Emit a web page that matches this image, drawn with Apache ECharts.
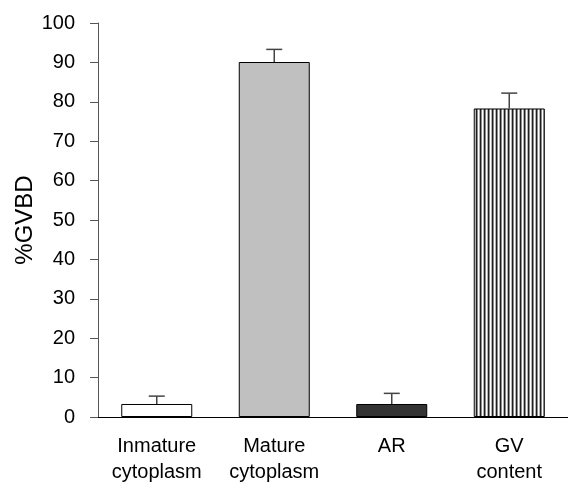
<!DOCTYPE html>
<html>
<head>
    <meta charset="utf-8">
    <title>%GVBD</title>
    <script src="https://cdn.jsdelivr.net/npm/echarts@6/dist/echarts.min.js"></script>
    <style>
        html, body { margin: 0; padding: 0; background: #fff; }
        #chart1 { width: 568px; height: 485px; }
    </style>
</head>
<body>
<div id="chart1"></div>
<script type="text/javascript">
    // 数据
    var categories = ['Inmature\ncytoplasm', 'Mature\ncytoplasm', 'AR', 'GV\ncontent'];
    var gvbd = [3.3, 90.1, 3.3, 78.3];
    var errUp = [2.0, 3.2, 2.7, 3.9];
    var yTicks = [0, 100, 10];

    // 竖条纹图案 (GV content)
    var cv = document.createElement('canvas');
    cv.width = 4; cv.height = 4;
    var cx = cv.getContext('2d');
    var stripe = ['#1e1e1e', '#8c8c8c', '#ffffff', '#b4b4b4'];
    for (var i = 0; i < 4; i++) {
        cx.fillStyle = stripe[i];
        cx.fillRect(i, 0, 1, 4);
    }
    var fills = ['#ffffff', '#c0c0c0', '#333333', { image: cv, repeat: 'repeat' }];

    var chart = echarts.init(document.getElementById('chart1'));
    chart.setOption({
        animation: false,
        grid: { left: 98, top: 23, width: 477, height: 394 },
        xAxis: {
            type: 'category',
            data: categories,
            axisLine: { lineStyle: { color: '#000', width: 1 } },
            axisTick: { length: 6, lineStyle: { color: '#000' } },
            axisLabel: { interval: 0, color: '#000', fontSize: 20, lineHeight: 26, margin: 16, fontFamily: 'Liberation Sans' }
        },
        yAxis: {
            type: 'value',
            min: yTicks[0], max: yTicks[1], interval: yTicks[2],
            name: '%GVBD',
            nameLocation: 'middle',
            nameRotate: 90,
            nameGap: 61,
            nameMoveOverlap: false,
            nameTextStyle: { color: '#000', fontSize: 24, fontFamily: 'Liberation Sans' },
            axisLine: { show: true, lineStyle: { color: '#555', width: 1 } },
            axisTick: { show: true, length: 8, lineStyle: { color: '#555' } },
            axisLabel: { color: '#000', fontSize: 20, margin: 23, fontFamily: 'Liberation Sans' },
            splitLine: { show: false }
        },
        series: [{
            type: 'bar',
            data: gvbd.map(function (v, i) {
                return { value: v, itemStyle: { color: fills[i] } };
            }),
            barWidth: 71,
            itemStyle: { borderColor: '#000', borderWidth: 1 },
            z: 2
        }, {
            type: 'custom',
            data: gvbd.map(function (v, i) { return [i, v, v + errUp[i]]; }),
            renderItem: function (params, api) {
                var base = api.coord([api.value(0), api.value(1)]);
                var top = api.coord([api.value(0), api.value(2)]);
                var style = { stroke: '#444', lineWidth: 1.5 };
                return {
                    type: 'group',
                    children: [
                        { type: 'line', shape: { x1: base[0], y1: base[1], x2: top[0], y2: top[1] }, style: style },
                        { type: 'line', shape: { x1: top[0] - 8, y1: top[1], x2: top[0] + 8, y2: top[1] }, style: style }
                    ]
                };
            },
            z: 3
        }]
    });
</script>
</body>
</html>
